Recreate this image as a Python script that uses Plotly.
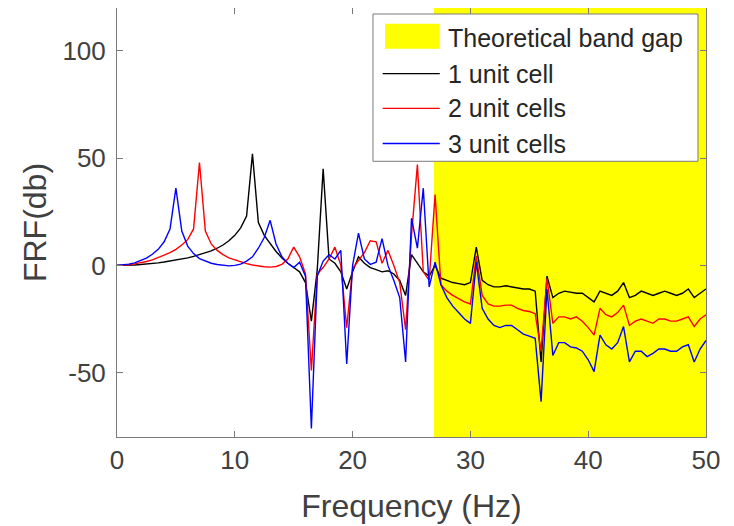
import plotly.graph_objects as go

# frequency grid (Hz), 0.5 Hz steps
freq = [i / 2 for i in range(101)]

# FRF in dB, one value per frequency point
frf_1cell = [
    0, 0, 0.1, 0.2, 0.4, 0.6, 0.9, 1.2, 1.6, 2.0,
    2.5, 3.0, 3.5, 4.2, 5.0, 5.8, 6.8, 8.0, 9.5, 11.5,
    14, 17.5, 23, 52, 20, 14, 10, 6.5, 3.5, 1,
    -1, -3, -8, -26, -2, 45, 3, 1, -3, -11,
    -3, 4, 1, -1, -2, -3, -2.5, -4, -7, -14,
    5, 1, -3, -5, 0, -6, -7, -8, -8.5, -9,
    -8, 8.5, -7, -9, -10, -10, -9.5, -10, -10.5, -11,
    -11, -12, -45, -5, -15, -13, -12, -12.5, -13, -13,
    -15, -17, -12, -13, -14, -12, -8, -15, -14, -12,
    -13, -14, -13, -12, -13, -14, -13, -11, -15, -13,
    -11,
]
frf_2cells = [
    0, 0.1, 0.3, 0.7, 1.2, 1.8, 2.6, 3.6, 4.8, 6,
    7.5, 9.5, 12, 17, 48, 16, 10, 7, 5, 3.5,
    2.5, 1.5, 0.8, 0.2, -0.3, -0.6, -0.8, -0.5, 0.5, 3,
    8.5, 4, -4, -49, -4, -1, 3, 8.5, 0, -29,
    -1.5, 2, 6, 11.5, 11, 1, 7, 0, -8, -30,
    14, 47, -3, -7, 33, -9, -12, -14, -15.5, -17,
    -18, 4.5, -14, -18, -19, -19, -18.5, -18.5, -20, -21,
    -21.5, -22.5, -40, -6, -27, -24, -24, -25, -24, -26,
    -29, -32.5, -20, -23, -24, -22, -18.5, -28, -26, -25,
    -26, -27, -25, -25, -26, -26, -25, -24, -28.5, -25,
    -23,
]
frf_3cells = [
    0, 0.2, 0.6, 1.2, 2.2, 3.4, 5.2, 7.5, 11, 17,
    36, 16, 9, 5.5, 3.2, 2, 1, 0.4, 0, -0.2,
    0, 0.6, 2, 4, 8, 13, 21, 10, 4, 1,
    -1, 1.5, -5, -76, -5, 2, 5, 3, 7, -46,
    0, 15, 3, 0.5, 1.5, 12.5, 0, -7, -15, -45,
    22, 8, 36, -10, 1.5, -9, -15, -19, -22, -25,
    -27, 1.5, -20, -25, -28, -29, -28, -28, -30, -32,
    -33, -34, -63.5, -11, -42, -36, -36, -38, -38.5, -40,
    -44, -49.5, -32.5, -37, -39, -36, -28.5, -45, -40, -40,
    -42.5, -41, -39, -39, -40, -40, -38, -37, -45, -39,
    -35,
]

band_gap = [26.9, 50]
series_names = ["1 unit cell", "2 unit cells", "3 unit cells"]
series_colors = ["#000000", "#ff0000", "#0000ff"]
band_name = "Theoretical band gap"

x_ticks = [0, 10, 20, 30, 40, 50]
y_ticks = [-50, 0, 50, 100]
y_tick_labels = ["-50", "0", "50", "100"]

FONT = "Liberation Sans, Arial, sans-serif"

fig = go.Figure()

for ys, name, col in zip([frf_1cell, frf_2cells, frf_3cells], series_names, series_colors):
    fig.add_trace(
        go.Scatter(
            x=freq, y=ys, mode="lines", name=name,
            line=dict(color=col, width=1.4), showlegend=False,
        )
    )

# yellow band gap region behind the curves
fig.add_shape(
    type="rect", xref="x", yref="y",
    x0=band_gap[0], x1=band_gap[1], y0=-80, y1=120,
    fillcolor="#ffff00", line=dict(width=0), layer="below",
)

# legend drawn by hand (MATLAB-style box)
lx0, lx1, ly0, ly1 = 0.4346, 0.9864, 0.6427, 0.986
fig.add_shape(type="rect", xref="paper", yref="paper", x0=lx0, x1=lx1, y0=ly0, y1=ly1,
              fillcolor="white", line=dict(color="#7a7a7a", width=1))
fig.add_shape(type="rect", xref="paper", yref="paper", x0=0.455, x1=0.548, y0=0.905, y1=0.963,
              fillcolor="#ffff00", line=dict(width=0))
row_y = [0.930, 0.847, 0.766, 0.684]
for yy, col in zip(row_y[1:], series_colors):
    fig.add_shape(type="line", xref="paper", yref="paper", x0=0.451, x1=0.548, y0=yy, y1=yy,
                  line=dict(color=col, width=1.4))
for yy, txt in zip(row_y, [band_name] + series_names):
    fig.add_annotation(xref="paper", yref="paper", x=0.558, y=yy, text=txt, showarrow=False,
                       xanchor="left", yanchor="middle",
                       font=dict(family=FONT, size=25, color="#262626"))

axis_style = dict(
    showline=True, mirror="ticks", linecolor="#7a7a7a", linewidth=1,
    ticks="inside", ticklen=6, tickcolor="#7a7a7a",
    showgrid=False, zeroline=False,
    tickfont=dict(family=FONT, size=26, color="#404040"),
)

fig.update_xaxes(range=[0, 50], tickvals=x_ticks,
                 title=dict(text="Frequency (Hz)", font=dict(family=FONT, size=32, color="#404040"), standoff=20),
                 **axis_style)
fig.update_yaxes(range=[-80, 120], tickvals=y_ticks, ticktext=y_tick_labels, ticklabelstandoff=5,
                 title=dict(text="FRF(db)", font=dict(family=FONT, size=32, color="#404040"), standoff=6),
                 **axis_style)

# the page adds an 8px offset, margins account for it
fig.update_layout(
    width=734, height=526,
    margin=dict(l=109, r=36, t=0, b=97),
    paper_bgcolor="white", plot_bgcolor="white",
    showlegend=False,
)

fig.write_html("out.html")
